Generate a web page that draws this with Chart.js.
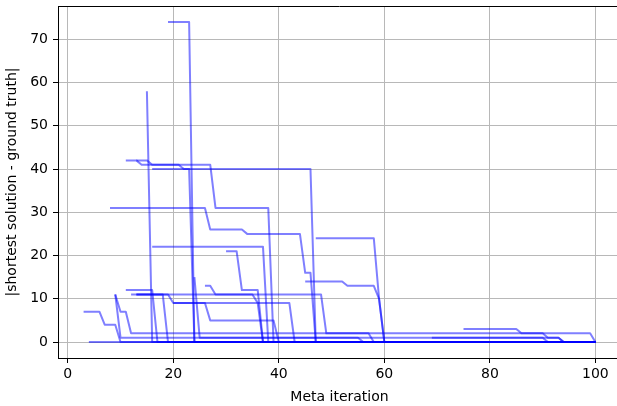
<!DOCTYPE html>
<html>
<head>
<meta charset="utf-8">
<script src="https://cdn.jsdelivr.net/npm/chart.js@4.4.1/dist/chart.umd.min.js"></script>
<style>
  html, body { margin: 0; padding: 0; background: #fff; overflow: hidden; }
  #wrap { width: 624px; height: 406px; }
</style>
</head>
<body>
<div id="wrap"><canvas id="chart" width="624" height="406"></canvas></div>
<script>
// one array per run: [meta iteration, |shortest solution - ground truth|]
const run01 = [[3, 7], [6, 7], [7, 4], [9, 4], [10, 0], [100, 0]];
const run02 = [[4, 0], [100, 0]];
const run03 = [[9, 11], [10, 7], [11, 7], [12, 2], [99, 2], [100, 0]];
const run04 = [[9, 11], [10, 1], [90, 1], [91, 0], [100, 0]];
const run05 = [[11, 12], [16, 12], [17, 0], [100, 0]];
const run06 = [[12, 11], [48, 11], [49, 2], [57, 2], [58, 0], [100, 0]];
const run07 = [[13, 11], [19, 11], [20, 9], [42, 9], [43, 0], [100, 0]];
const run08 = [[20, 9], [26, 9], [27, 5], [39, 5], [40, 0], [100, 0]];
const run09 = [[15, 58], [16, 0], [100, 0]];
const run10 = [[19, 74], [23, 74], [24, 0], [100, 0]];
const run11 = [[11, 42], [13, 42], [14, 41], [21, 41], [22, 40], [23, 40], [24, 0], [100, 0]];
const run12 = [[13, 42], [15, 42], [16, 41], [27, 41], [28, 31], [38, 31], [39, 0], [100, 0]];
const run13 = [[16, 40], [46, 40], [47, 0], [100, 0]];
const run14 = [[8, 31], [26, 31], [27, 26], [33, 26], [34, 25], [44, 25], [45, 16], [46, 16], [47, 0], [100, 0]];
const run15 = [[16, 22], [37, 22], [38, 0], [100, 0]];
const run16 = [[30, 21], [32, 21], [33, 12], [36, 12], [37, 0], [100, 0]];
const run17 = [[26, 13], [27, 13], [28, 11], [35, 11], [36, 9], [37, 0], [100, 0]];
const run18 = [[47, 24], [58, 24], [59, 10], [60, 0], [100, 0]];
const run19 = [[45, 14], [52, 14], [53, 13], [58, 13], [59, 10], [60, 0], [100, 0]];
const run20 = [[24, 15], [25, 1], [55, 1], [56, 0], [100, 0]];
const run21 = [[75, 3], [85, 3], [86, 2], [90, 2], [91, 1], [93, 1], [94, 0], [100, 0]];
const run22 = [[69, 1], [93, 1], [94, 0], [100, 0]];
const run23 = [[13, 11], [18, 11], [19, 0], [100, 0]];

const runs = [run01, run02, run03, run04, run05, run06, run07, run08, run09, run10, run11,
  run12, run13, run14, run15, run16, run17, run18, run19, run20, run21, run22, run23];

const xTicks = [0, 20, 40, 60, 80, 100];
const yTicks = [0, 10, 20, 30, 40, 50, 60, 70];

const FONT = { family: "'DejaVu Sans', sans-serif", size: 14 };

// matplotlib-style frame (top/right spines); bottom/left come from the axis borders
const frame = {
  id: "frame",
  afterDraw(chart) {
    const { ctx, chartArea: a } = chart;
    ctx.save();
    ctx.strokeStyle = "#000";
    ctx.lineWidth = 1;
    ctx.beginPath();
    ctx.moveTo(a.left, a.top + 0.5);
    ctx.lineTo(a.right, a.top + 0.5);
    ctx.moveTo(a.right - 0.5, a.top);
    ctx.lineTo(a.right - 0.5, a.bottom);
    ctx.stroke();
    ctx.restore();
  },
};

new Chart(document.getElementById("chart"), {
  type: "line",
  data: {
    datasets: runs.map((r) => ({
      data: r.map(([x, y]) => ({ x, y })),
      borderColor: "rgba(0,0,255,0.5)",
      borderWidth: 2,
      borderJoinStyle: "round",
      pointRadius: 0,
      tension: 0,
      fill: false,
    })),
  },
  options: {
    responsive: false,
    animation: false,
    devicePixelRatio: 1,
    layout: { padding: { top: 6, right: 3, left: 0, bottom: 0 } },
    plugins: { legend: { display: false }, tooltip: { enabled: false } },
    scales: {
      x: {
        type: "linear",
        min: -1.85,
        max: 104.85,
        afterBuildTicks: (s) => { s.ticks = xTicks.map((v) => ({ value: v })); },
        // fixed box, no label overhang padding — plot area pinned like the matplotlib axes
        afterFit: (s) => { s.height = 48; s.paddingLeft = 0; s.paddingRight = 0; },
        grid: { color: "#b8b8b8", lineWidth: 1, tickLength: 5, tickColor: "#000", tickWidth: 1 },
        border: { display: true, color: "#000", width: 1 },
        ticks: { color: "#000", font: FONT, padding: 3, maxRotation: 0 },
        title: { display: true, text: "Meta iteration", color: "#000", font: FONT, padding: { top: 0, bottom: 0 } },
      },
      y: {
        min: -3.7,
        max: 77.7,
        afterBuildTicks: (s) => { s.ticks = yTicks.map((v) => ({ value: v })); },
        afterFit: (s) => { s.width = 58; s.paddingTop = 0; s.paddingBottom = 0; },
        grid: { color: "#b8b8b8", lineWidth: 1, tickLength: 5, tickColor: "#000", tickWidth: 1 },
        border: { display: true, color: "#000", width: 1 },
        ticks: { color: "#000", font: FONT, padding: 5 },
        title: { display: true, text: "|shortest solution - ground truth|", color: "#000", font: FONT, padding: { top: 4, bottom: 0 } },
      },
    },
  },
  plugins: [frame],
});
</script>
</body>
</html>
